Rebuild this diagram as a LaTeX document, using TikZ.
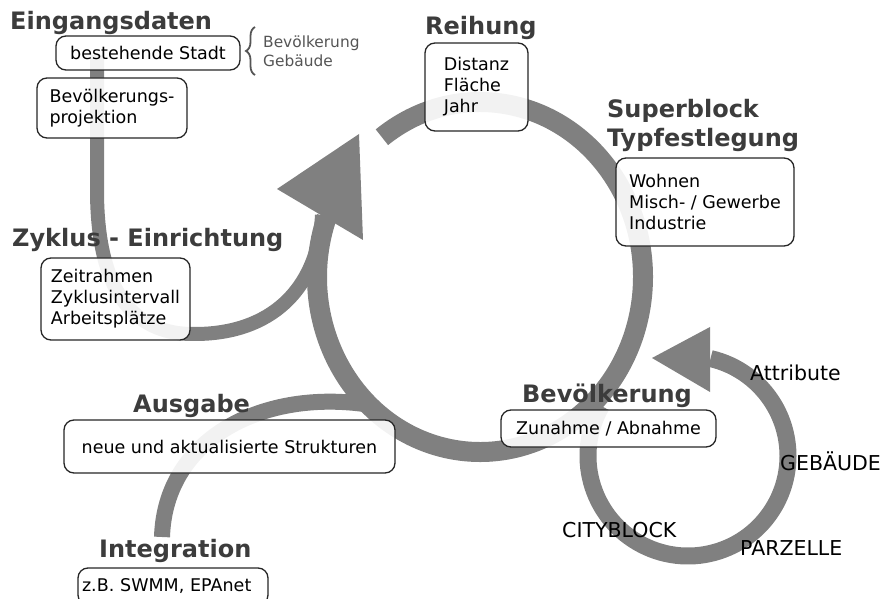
\documentclass[tikz,border=0pt]{standalone}
\usepackage{fontspec}
\setmainfont{DejaVu Sans}
\usepackage{xcolor}
\usepackage{tikz}
\usetikzlibrary{decorations.pathreplacing}
\pgfdeclarelayer{bg}
\pgfsetlayers{bg,main}
\definecolor{flowgray}{RGB}{128,128,128}
\definecolor{headgray}{RGB}{60,60,60}
\definecolor{notegray}{RGB}{85,85,85}
\tikzset{
	box/.style={draw=black!85, line width=1.3pt, rounded corners=10pt, fill=white, fill opacity=0.9, text opacity=1, inner ysep=0pt, align=left, font=\fontsize{17.5}{21}\selectfont},
	head/.style={anchor=base west, inner sep=0pt, text=headgray, font=\fontsize{24}{28}\selectfont\bfseries},
	tag/.style={anchor=base west, inner sep=0pt, font=\fontsize{20.5}{24}\selectfont},
	note/.style={anchor=base west, inner sep=0pt, text=notegray, font=\fontsize{15.4}{19}\selectfont},
	flow/.style={draw=flowgray, line width=#1},
	flow/.default=20pt,
}

\begin{document}
\begin{tikzpicture}[x=1pt, y=1pt]
		\useasboundingbox (0,0) rectangle (884,598);
		\clip (0,0) rectangle (884,598);

		% Eingangsdaten
		\node[head] (eingang) at (10,568) {Eingangsdaten};
		\node[box, minimum width=184pt, minimum height=34pt] (stadt) at (148,545) {bestehende Stadt};
		\draw[decorate, decoration={brace, amplitude=9pt}, notegray, line width=1.8pt] (255,523) -- (255,571);
		\node[note] (bevnote) at (263,550) {Bevölkerung};
		\node[note] (gebnote) at (263,531) {Gebäude};
		\node[box, minimum width=150pt, minimum height=60pt] (projektion) at (112,490) {Bevölkerungs-\\projektion};

		% Reihung, Superblock
		\node[head] (reihungkopf) at (425,563) {Reihung};
		\node[box, minimum width=103pt, minimum height=88pt] (reihung) at (476.5,511) {Distanz\\Fläche\\Jahr};
		\node[head] (superblock) at (607,480) {Superblock};
		\node[head] (typfest) at (607,451) {Typfestlegung};
		\node[box, minimum width=178pt, minimum height=88pt] (typen) at (705,396) {Wohnen\\Misch- / Gewerbe\\Industrie};

		% Zyklus
		\node[head] (zykluskopf) at (12,351) {Zyklus - Einrichtung};
		\node[box, minimum width=149pt, minimum height=82pt] (zyklus) at (115.5,299) {Zeitrahmen\\Zyklusintervall\\Arbeitsplätze};

		% Ausgabe, Integration
		\node[head] (ausgabekopf) at (133,186) {Ausgabe};
		\node[box, minimum width=331pt, minimum height=53pt] (ausgabe) at (229.5,151.5) {neue und aktualisierte Strukturen};
		\node[head] (integkopf) at (99,41) {Integration};
		\node[box, minimum width=190pt, minimum height=37pt, inner xsep=4pt, text width=182pt] (integ) at (173,11.5) {z.B. SWMM, EPAnet};

		% Bevoelkerung
		\node[head] (bevkopf) at (522,196) {Bevölkerung};
		\node[box, minimum width=215pt, minimum height=37pt] (zunahme) at (608.5,169.5) {Zunahme / Abnahme};
		\node[tag] (attribute) at (750,218) {Attribute};
		\node[tag] (gebaeude) at (780,128) {GEBÄUDE};
		\node[tag] (cityblock) at (562,61) {CITYBLOCK};
		\node[tag] (parzelle) at (740,43) {PARZELLE};

		\begin{pgfonlayer}{bg}
			\coordinate (ring) at (480,321);
			\coordinate (loop) at (688,142);
			\coordinate (eintritt) at (97,543);
			\coordinate (ausgang) at (364,194);
			% main cycle
			\draw[flow] (ring) ++(127:163 and 175) arc[start angle=127, end angle=-200, x radius=163, y radius=175];
			\fill[flowgray] (277,409) -- (363,358) -- (359,464) -- cycle;
			% input into the cycle
			\draw[flow=14pt] (eintritt) -- (97,408) .. controls (97,298) and (140,263) .. (195,264) .. controls (270,264) and (318,308) .. (322,383);
			% output
			\draw[flow=16pt] (ausgang) .. controls (260,208) and (165,158) .. (162,61);
			% small loop
			\draw[flow=17pt] (loop) ++(150:100) arc[start angle=150, end angle=437, radius=100];
			\fill[flowgray] (710,271) -- (710,206) -- (652,240) -- cycle;
		\end{pgfonlayer}
	\end{tikzpicture}
\end{document}
